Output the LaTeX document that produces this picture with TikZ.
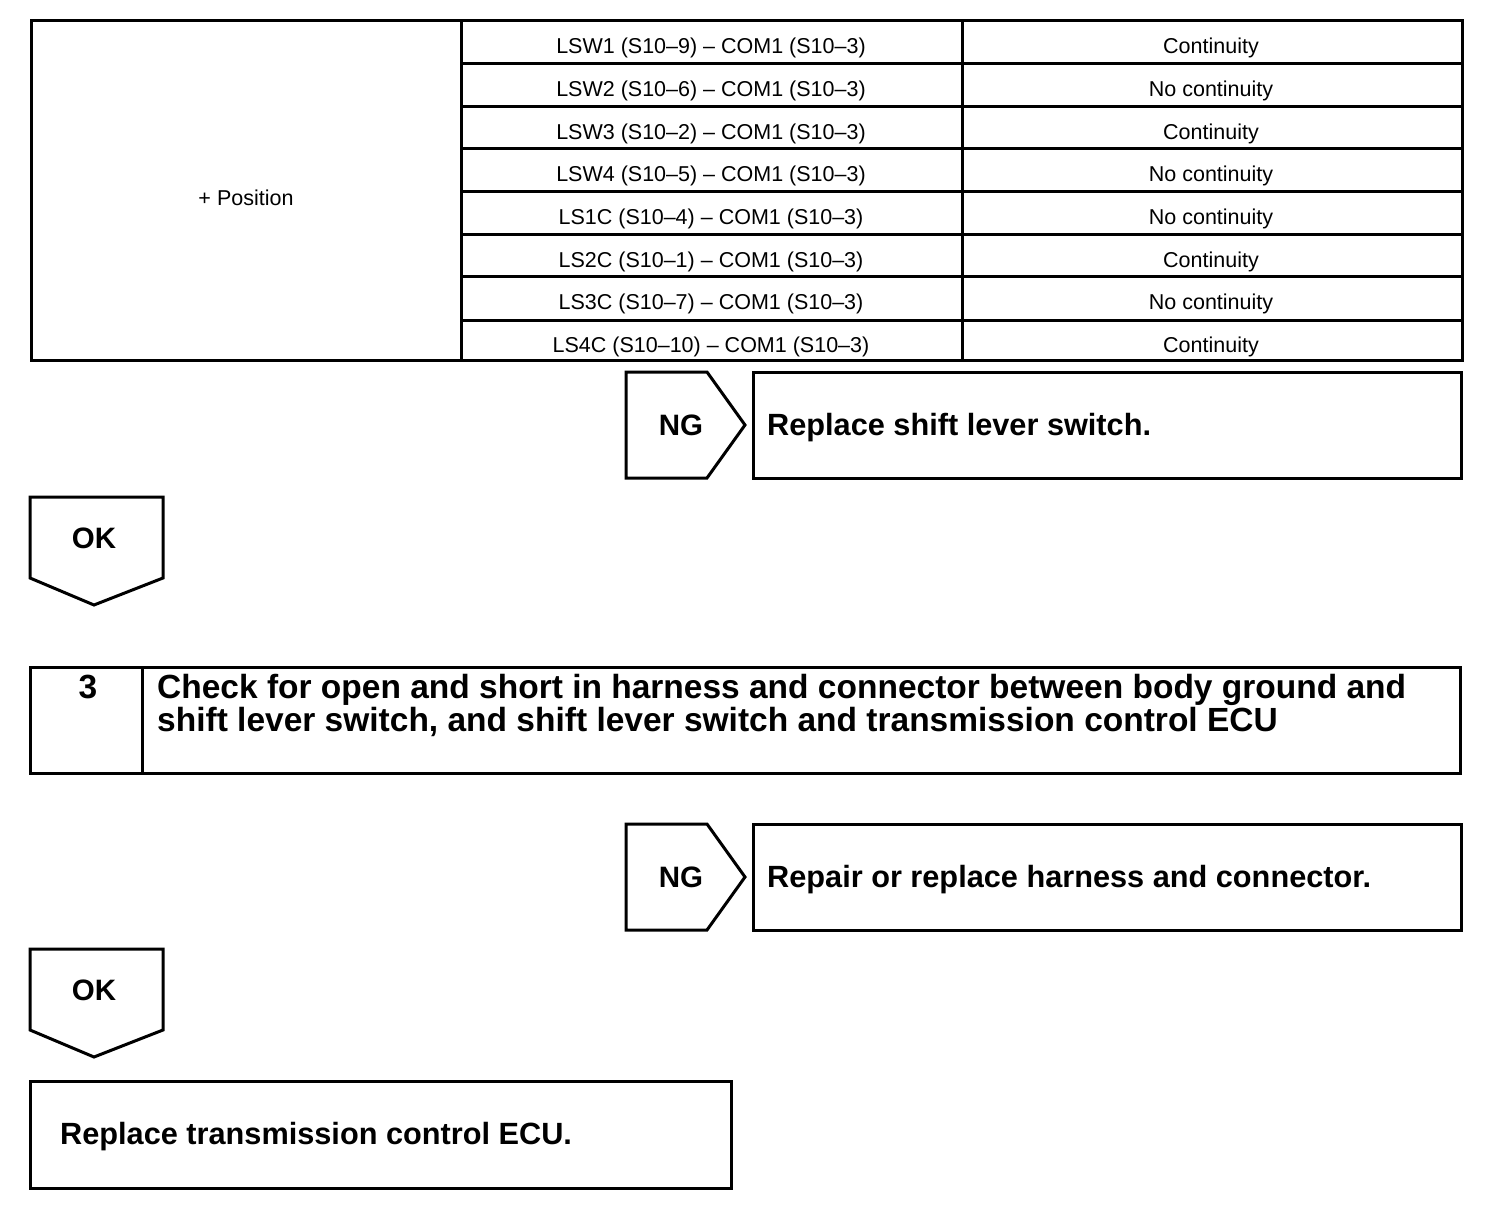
\documentclass[tikz,border=0pt]{standalone}
\usepackage{fontspec}
\setmainfont{Liberation Sans}
\begin{document}
\begin{tikzpicture}[x=1pt,y=-1pt,
  frame/.style={draw=black,line width=3pt,line join=miter},
  cell/.style={inner sep=0pt,font=\fontsize{21.5}{24}\selectfont},
  act/.style={inner sep=0pt,font=\fontsize{30.7}{33}\selectfont\bfseries},
  tag/.style={inner sep=0pt,font=\fontsize{29.5}{32}\selectfont\bfseries},
  steptxt/.style={inner sep=0pt,font=\fontsize{33.5}{34}\selectfont\bfseries}]
\useasboundingbox (0,0) rectangle (1504,1206);
% ---- table ----
\draw[frame] (31,21) rectangle (1462,360);
\draw[frame] (461,21) -- (461,360);
\draw[frame] (962,21) -- (962,360);
\foreach \y in {64,107,149,192,235,277,320}{\draw[frame] (461,\y) -- (1462,\y);}
\node[cell] (pos) at (246,198) {+ Position};
\node[cell] (r1a) at (711,47.5) {LSW1 (S10–9) – COM1 (S10–3)};
\node[cell] (r2a) at (711,90.5) {LSW2 (S10–6) – COM1 (S10–3)};
\node[cell] (r3a) at (711,133.5) {LSW3 (S10–2) – COM1 (S10–3)};
\node[cell] (r4a) at (711,175.5) {LSW4 (S10–5) – COM1 (S10–3)};
\node[cell] (r5a) at (711,218.5) {LS1C (S10–4) – COM1 (S10–3)};
\node[cell] (r6a) at (711,261.5) {LS2C (S10–1) – COM1 (S10–3)};
\node[cell] (r7a) at (711,303.5) {LS3C (S10–7) – COM1 (S10–3)};
\node[cell] (r8a) at (711,346.5) {LS4C (S10–10) – COM1 (S10–3)};
\node[cell] (r1b) at (1211,47.5) {Continuity};
\node[cell] (r2b) at (1211,90.5) {No continuity};
\node[cell] (r3b) at (1211,133.5) {Continuity};
\node[cell] (r4b) at (1211,175.5) {No continuity};
\node[cell] (r5b) at (1211,218.5) {No continuity};
\node[cell] (r6b) at (1211,261.5) {Continuity};
\node[cell] (r7b) at (1211,303.5) {No continuity};
\node[cell] (r8b) at (1211,346.5) {Continuity};
% ---- NG 1 ----
\draw[frame] (626,372) -- (707,372) -- (745,425) -- (707,478) -- (626,478) -- cycle;
\node[tag] (ng1) at (681,425) {NG};
\draw[frame] (753,372) rectangle (1461,478);
\node[act,anchor=west] (rep1) at (767,428) {Replace shift lever switch.};
% ---- OK 1 ----
\draw[frame] (30,497) -- (163,497) -- (163,578) -- (94,605) -- (30,578) -- cycle;
\node[tag] (ok1) at (94,538) {OK};
% ---- step 3 ----
\draw[frame] (30,667) rectangle (1460,773);
\draw[frame] (142,667) -- (142,773);
\node[steptxt,anchor=base] (num3) at (88,698) {3};
\node[steptxt,anchor=base west] (st3a) at (157,698) {Check for open and short in harness and connector between body ground and};
\node[steptxt,anchor=base west] (st3b) at (157,731) {shift lever switch, and shift lever switch and transmission control ECU};
% ---- NG 2 ----
\draw[frame] (626,824) -- (707,824) -- (745,877) -- (707,930) -- (626,930) -- cycle;
\node[tag] (ng2) at (681,877) {NG};
\draw[frame] (753,824) rectangle (1461,930);
\node[act,anchor=west] (rep2) at (767,880) {Repair or replace harness and connector.};
% ---- OK 2 ----
\draw[frame] (30,949) -- (163,949) -- (163,1030) -- (94,1057) -- (30,1030) -- cycle;
\node[tag] (ok2) at (94,990) {OK};
% ---- final ----
\draw[frame] (30,1081) rectangle (731,1188);
\node[act,anchor=west] (fin) at (60,1137) {Replace transmission control ECU.};
\end{tikzpicture}
\end{document}
